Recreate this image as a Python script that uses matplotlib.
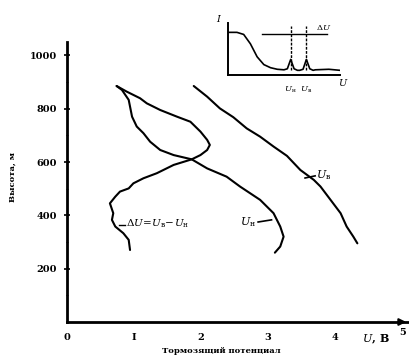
import numpy as np
import matplotlib
matplotlib.use("Agg")
import matplotlib.pyplot as plt

plt.rcParams['font.family'] = ['DejaVu Serif']
plt.rcParams['mathtext.fontset'] = 'dejavuserif'

# -------------------
# Data
# -------------------
# upper potential U_в
u_hi_x = [1.89, 2.09, 2.28, 2.48, 2.68, 2.88, 3.08, 3.28, 3.48, 3.68, 3.78, 3.93, 4.08, 4.17, 4.27, 4.33]
u_hi_y = [885, 845, 801, 768, 726, 695, 658, 623, 570, 533, 508, 458, 408, 358, 320, 295]

# lower potential U_н
u_lo_x = [0.74, 0.82, 0.92, 0.97, 1.04, 1.14, 1.24, 1.39, 1.59, 1.86, 2.09, 2.38, 2.58, 2.88, 3.08, 3.18, 3.23, 3.18, 3.10]
u_lo_y = [885, 870, 833, 770, 733, 708, 676, 645, 626, 610, 576, 545, 508, 458, 408, 358, 320, 283, 260]

# difference dU = U_в - U_н
du_x = [0.74, 0.89, 1.09, 1.19, 1.39, 1.64, 1.84, 1.99, 2.09, 2.13, 2.09, 1.99, 1.86, 1.59, 1.34,
        1.14, 0.99, 0.92, 0.79, 0.72, 0.64, 0.69, 0.67, 0.72, 0.84, 0.92, 0.94]
du_y = [885, 864, 839, 820, 795, 770, 751, 714, 683, 664, 645, 626, 610, 589, 558,
        539, 520, 501, 489, 470, 445, 408, 383, 358, 333, 308, 270]

x_ticks = [0, 1, 2, 3, 4]
x_tick_labels = ['0', 'I', '2', '3', '4']
y_ticks = [200, 400, 600, 800, 1000]

# inset: current vs voltage with two peaks
inset_u = [0.00, 0.08, 0.14, 0.20, 0.26, 0.32, 0.38, 0.44, 0.50, 0.53, 0.56, 0.59, 0.62, 0.64,
           0.67, 0.70, 0.73, 0.76, 0.78, 0.90, 1.00]
inset_i = [0.82, 0.82, 0.78, 0.60, 0.35, 0.20, 0.14, 0.11, 0.10, 0.12, 0.30, 0.12, 0.09, 0.09,
           0.11, 0.30, 0.12, 0.09, 0.10, 0.11, 0.09]
inset_peaks = [0.56, 0.70]

# -------------------
# Figure
# -------------------
fig = plt.figure(figsize=(4.1, 3.64), dpi=100)
ax = fig.add_axes([67 / 410, 42 / 364, 342 / 410, 280 / 364])
ax.set_xlim(0, 5.1)
ax.set_ylim(0, 1050)

line_kw = dict(color='black', lw=1.5, solid_capstyle='round')
ax.plot(u_hi_x, u_hi_y, **line_kw)
ax.plot(u_lo_x, u_lo_y, **line_kw)
ax.plot(du_x, du_y, **line_kw)

for s in ['top', 'right']:
    ax.spines[s].set_visible(False)
for s in ['left', 'bottom']:
    ax.spines[s].set_linewidth(2.0)

ax.annotate('', xy=(5.1, 0), xytext=(4.9, 0),
            arrowprops=dict(arrowstyle='-|>', color='black', lw=1.5), annotation_clip=False)

ax.set_xticks(x_ticks)
ax.set_xticklabels(x_tick_labels, fontsize=7, fontweight='bold')
ax.set_yticks(y_ticks)
ax.set_yticklabels([str(v) for v in y_ticks], fontsize=7, fontweight='bold')
ax.set_yticks(np.arange(100, 1001, 100), minor=True)
ax.tick_params(axis='both', which='major', direction='inout', length=4, width=1.2, pad=5)
ax.tick_params(axis='y', which='minor', direction='inout', length=2, width=0.8)
ax.tick_params(axis='x', length=0, pad=8)

ax.text(5.0, -40, '5', fontsize=7, fontweight='bold', ha='center', va='center')
ax.text(4.6, -65, r'$\mathit{U}$, В', fontsize=8, fontweight='bold', ha='center', va='center')
ax.text(2.3, -110, 'Тормозящий потенциал', fontsize=6, fontweight='bold', ha='center', va='center')
fig.text(13 / 410, 1 - 177 / 364, 'Высота, м', rotation=90, fontsize=6, fontweight='bold',
         ha='center', va='center')

# curve labels
ax.plot([3.55, 3.7], [540, 548], color='black', lw=1.2)
ax.text(3.72, 550, r'$U_{\mathrm{в}}$', fontsize=8, ha='left', va='center')
ax.plot([2.85, 3.05], [375, 383], color='black', lw=1.2)
ax.text(2.7, 373, r'$U_{\mathrm{н}}$', fontsize=8, ha='center', va='center')
ax.plot([0.78, 0.86], [362, 362], color='black', lw=1.0)
ax.text(0.88, 370, r'$\Delta U\!=\!U_{\mathrm{в}}\!-\!U_{\mathrm{н}}$', fontsize=7.5,
        ha='left', va='center')

# -------------------
# Inset
# -------------------
ins = fig.add_axes([228 / 410, 1 - 75 / 364, 112 / 410, 52 / 364])
ins.set_xlim(0, 1.0)
ins.set_ylim(0, 1.0)
ins.plot(inset_u, inset_i, color='black', lw=1.2)
for p in inset_peaks:
    ins.plot([p, p], [0.1, 0.95], color='black', lw=1.0, ls=(0, (2, 1)))
ins.plot([0.30, 0.88], [0.78, 0.78], color='black', lw=1.0)
ins.text(0.85, 0.92, r'$\Delta U$', fontsize=6, ha='center', va='center')
ins.text(-0.08, 1.08, r'$I$', fontsize=7, ha='center', va='center')
ins.text(1.03, -0.15, r'$U$', fontsize=7, ha='center', va='center')
for p, lab in zip(inset_peaks, [r'$U_{\mathrm{н}}$', r'$U_{\mathrm{в}}$']):
    ins.text(p, -0.28, lab, fontsize=6, ha='center', va='center')
ins.set_xticks([])
ins.set_yticks([])
for s in ['top', 'right']:
    ins.spines[s].set_visible(False)
for s in ['left', 'bottom']:
    ins.spines[s].set_linewidth(1.4)

fig.savefig('out.png', dpi=100)
